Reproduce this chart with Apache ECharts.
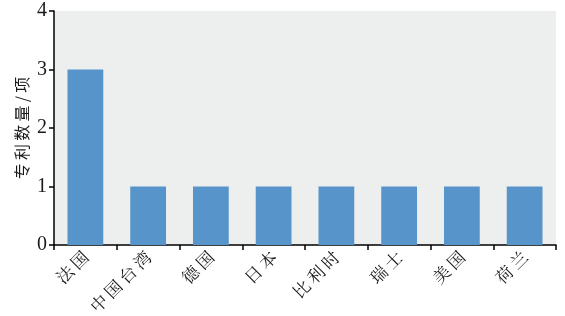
<!DOCTYPE html>
<html><head><meta charset="utf-8">
<script src="https://cdn.jsdelivr.net/npm/echarts@6/dist/echarts.min.js"></script>
<style>html,body{margin:0;padding:0;background:#fff}#c{width:565px;height:316px}</style>
</head><body><div id="c"></div>
<script>
var categories = ['法国','中国台湾','德国','日本','比利时','瑞士','美国','荷兰'];
var values = [3,1,1,1,1,1,1,1];
var yTicks = [0,1,2,3,4];
var yName = '专利数量/项';

function spaced(s){ return s.split('').join('\u2009'); }

var chart = echarts.init(document.getElementById('c'), null, {renderer:'canvas'});
chart.setOption({
  animation:false,
  grid:{left:54,right:9,top:11,bottom:71,show:true,backgroundColor:'#EDEEEE',borderWidth:0,
        containLabel:false,outerBoundsMode:'none'},
  xAxis:{type:'category',data:categories,
    axisLine:{lineStyle:{color:'#000',width:1.5}},
    axisTick:{show:true,length:5,lineStyle:{color:'#000',width:1.5}},
    axisLabel:{rotate:45,fontSize:17,color:'#1a1a1a',fontFamily:'Noto Serif CJK SC, Noto Sans CJK SC',margin:9,
      formatter:function(v){return spaced(v);}}},
  yAxis:{type:'value',min:yTicks[0],max:yTicks[yTicks.length-1],interval:1,
    name:spaced(yName),nameLocation:'middle',nameRotate:90,nameGap:24,nameMoveOverlap:false,
    nameTextStyle:{fontSize:16,color:'#1a1a1a',fontFamily:'Noto Sans CJK SC'},
    axisLine:{show:true,lineStyle:{color:'#000',width:1.5}},
    axisTick:{show:true,length:5,lineStyle:{color:'#000',width:1.5}},
    splitLine:{show:false},
    axisLabel:{fontSize:20,color:'#1a1a1a',fontFamily:'Liberation Serif',margin:7}},
  series:[{type:'bar',data:values,barWidth:'57%',itemStyle:{color:'#5794CA'}}]
});
</script></body></html>
